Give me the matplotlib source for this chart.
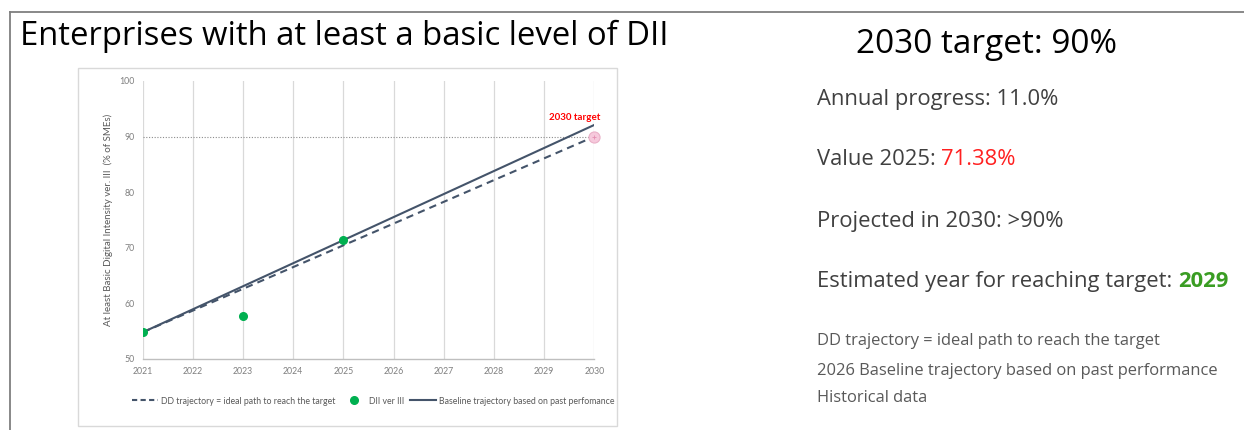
import matplotlib
matplotlib.use("Agg")
import matplotlib.pyplot as plt
from matplotlib.lines import Line2D
from matplotlib.patches import Rectangle

# ---- data -------------------------------------------------------------
years = list(range(2021, 2031))
year_labels = [str(y) for y in years]
y_ticks = [50, 60, 70, 80, 90, 100]

dii_years = [2021, 2023, 2025]
dii_values = [54.8, 57.7, 71.38]

baseline_years = [2021, 2030]
baseline_values = [54.8, 92.1]

dd_years = [2021, 2030]
dd_values = [54.8, 90.0]

target_year = 2030
target_value = 90

# ---- styling ------------------------------------------------------------
plt.rcParams['font.family'] = ['Lato', 'DejaVu Sans']
panel_font = ['Open Sans', 'DejaVu Sans']
W, H = 1244, 430
fig = plt.figure(figsize=(W / 100, H / 100), dpi=100)
fig.patch.set_facecolor('white')


def fx(px):
    return px / W


def fy(py):
    return 1 - py / H


# outer frame (left and top rules)
fig.add_artist(Line2D([fx(10), fx(10)], [fy(12), fy(430)], color='#7f7f7f', lw=1.3))
fig.add_artist(Line2D([fx(10), fx(1244)], [fy(12), fy(12)], color='#7f7f7f', lw=1.3))

# chart box
fig.add_artist(Rectangle((fx(78), fy(426)), fx(617) - fx(78), fy(68) - fy(426),
                         transform=fig.transFigure, fill=False,
                         edgecolor='#d9d9d9', lw=1.0))

slate = '#44546a'
green = '#00b050'
tick_grey = '#7f7f7f'

ax = fig.add_axes([fx(142.7), fy(359), fx(594.3) - fx(142.7), fy(81) - fy(359)])
ax.set_xlim(2021, 2030)
ax.set_ylim(50, 100)
ax.set_xticks(years)
ax.set_xticklabels(year_labels)
ax.set_yticks(y_ticks)
ax.tick_params(length=0, labelsize=6.3, colors=tick_grey, pad=6)
for s in ['top', 'right', 'left']:
    ax.spines[s].set_visible(False)
ax.spines['bottom'].set_color('#bfbfbf')
ax.spines['bottom'].set_linewidth(1.0)
ax.grid(axis='x', color='#d9d9d9', lw=0.9)
ax.set_axisbelow(True)

ax.set_ylabel('At least Basic Digital Intensity ver. III  (% of SMEs)',
              fontsize=7, color='#595959', labelpad=4)

# target reference line
ax.plot([2021, 2030], [target_value, target_value], color='#8c8c8c', lw=0.8,
        linestyle=(0, (1, 1.5)), zorder=2)

dd_line, = ax.plot(dd_years, dd_values, color=slate, lw=1.5,
                   linestyle=(0, (3.5, 2.5)), zorder=3,
                   label='DD trajectory = ideal path to reach the target')
pts, = ax.plot(dii_years, dii_values, 'o', color=green, ms=5.5, zorder=5,
               label='DII ver III', linestyle='none')
base_line, = ax.plot(baseline_years, baseline_values, color=slate, lw=1.5, zorder=4,
                     label='Baseline trajectory based on past perfomance')

ax.plot([target_year], [target_value], 'o', ms=8, mfc='#f6c9dc', mec='#eab0c8',
        mew=0.8, zorder=6, clip_on=False)
ax.plot([target_year], [target_value], '+', ms=3.5, color='#e48fb2', mew=0.6,
        zorder=7, clip_on=False)
ax.text(2029.6, 92.6, '2030 target', color='#ff0000', fontsize=7, weight='bold',
        ha='center', va='bottom')

leg = fig.legend(handles=[dd_line, pts, base_line], loc='center',
                 bbox_to_anchor=(fx(373), fy(401)), ncol=3, frameon=False,
                 fontsize=6.3, handlelength=3.0, handletextpad=0.3,
                 columnspacing=0.6, labelcolor='#595959')
leg.legend_handles[0].set_linestyle((0, (2.5, 1.6)))

# ---- text panel ------------------------------------------------------------
fig.text(fx(20), fy(45), 'Enterprises with at least a basic level of DII',
         fontsize=23.7, color='#000000', va='baseline', ha='left', family=panel_font)

fig.text(fx(986), fy(53), '2030 target: 90%', fontsize=24, color='#000000',
         va='baseline', ha='center', family=panel_font)

dark = '#404040'
body = 15.8
fig.text(fx(817), fy(105), 'Annual progress: 11.0%', fontsize=body, color=dark,
         va='baseline', family=panel_font)

t1 = fig.text(fx(817), fy(165), 'Value 2025: ', fontsize=body, color=dark,
              va='baseline', family=panel_font)
fig.canvas.draw()
bb = t1.get_window_extent()
fig.text(bb.x1 / W, fy(165), '71.38%', fontsize=body, color='#ff2020',
         va='baseline', family=panel_font)

fig.text(fx(817), fy(227), 'Projected in 2030: >90%', fontsize=body, color=dark,
         va='baseline', family=panel_font)

t2 = fig.text(fx(817), fy(287), 'Estimated year for reaching target: ', fontsize=body,
              color=dark, va='baseline', family=panel_font)
fig.canvas.draw()
bb = t2.get_window_extent()
fig.text(bb.x1 / W, fy(287), '2029', fontsize=body, color='#3a9d23', weight='bold',
         va='baseline', family=panel_font)

small = '#595959'
note = 11.9
fig.text(fx(817), fy(345), 'DD trajectory = ideal path to reach the target',
         fontsize=note, color=small, va='baseline', family=panel_font)
fig.text(fx(817), fy(375), '2026 Baseline trajectory based on past performance',
         fontsize=note, color=small, va='baseline', family=panel_font)
fig.text(fx(817), fy(402), 'Historical data', fontsize=note, color=small,
         va='baseline', family=panel_font)

fig.savefig('out.png', dpi=100, facecolor='white')
